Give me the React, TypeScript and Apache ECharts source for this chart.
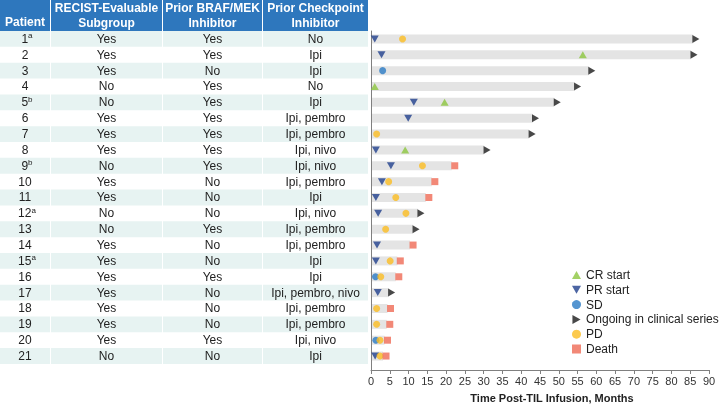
import React, { useEffect, useRef } from "react";
import * as echarts from "echarts";

// ---------- data ----------
const patients = ["1","2","3","4","5","6","7","8","9","10","11","12","13","14","15","16","17","18","19","20","21"];
const patientNotes = ["a","","","","b","","","","b","","","a","","","a","","","","","",""];
const recist = ["Yes","Yes","Yes","No","No","Yes","Yes","Yes","No","Yes","Yes","No","No","Yes","Yes","Yes","Yes","Yes","Yes","Yes","No"];
const priorBrafMek = ["Yes","Yes","No","Yes","Yes","Yes","Yes","Yes","Yes","No","No","No","Yes","No","No","Yes","No","No","No","Yes","No"];
const priorCheckpoint = ["No","Ipi","Ipi","No","Ipi","Ipi, pembro","Ipi, pembro","Ipi, nivo","Ipi, nivo","Ipi, pembro","Ipi","Ipi, nivo","Ipi, pembro","Ipi, pembro","Ipi","Ipi","Ipi, pembro, nivo","Ipi, pembro","Ipi, pembro","Ipi, nivo","Ipi"];
const tableHeaders = ["Patient", "RECIST-Evaluable\nSubgroup", "Prior BRAF/MEK\nInhibitor", "Prior Checkpoint\nInhibitor"];

// months post-TIL infusion at end of follow-up
const followUp = [86.5, 86, 58.8, 55, 49.6, 43.8, 42.9, 30.9, 22.3, 17, 15.4, 13.3, 12, 11.2, 7.8, 7.4, 5.5, 5.2, 5.0, 4.4, 4.0];
const outcome = ["ongoing","ongoing","ongoing","ongoing","ongoing","ongoing","ongoing","ongoing","death","death","death","ongoing","ongoing","death","death","death","ongoing","death","death","death","death"];

// [months, patient number]
const crStart = [[56.4, 2], [1.0, 4], [19.6, 5], [9.1, 8]];
const prStart = [[1.0, 1], [2.8, 2], [11.4, 5], [9.9, 6], [1.3, 8], [5.3, 9], [2.9, 10], [1.3, 11], [1.9, 12], [1.6, 14], [1.3, 15], [1.8, 17], [1.1, 21]];
const sd = [[3.1, 3], [1.2, 16], [1.3, 20]];
const pd = [[8.4, 1], [1.5, 7], [13.7, 9], [4.7, 10], [6.6, 11], [9.3, 12], [3.9, 13], [5.1, 15], [2.6, 16], [1.5, 18], [1.5, 19], [2.4, 20], [2.4, 21]];

const xTicksMax = 90;
const xTickStep = 5;
const xAxisTitle = "Time Post-TIL Infusion, Months";
const legendNames = ["CR start", "PR start", "SD", "Ongoing in clinical series", "PD", "Death"];

// ---------- layout ----------
const W = 720, H = 408;
const GRID_LEFT = 371, GRID_RIGHT = 11, GRID_TOP = 31, GRID_BOTTOM = 38;
const Y_MIN = 0.5, Y_MAX = 21.88;
const ROW_H = (H - GRID_TOP - GRID_BOTTOM) / (Y_MAX - Y_MIN);
const rowY = (i: number) => GRID_TOP + (i + 1 - Y_MIN) * ROW_H;
const FONT = "'Liberation Sans', Arial, Helvetica, sans-serif";
const HEADER_BLUE = "#2e77bd";
const BAND = "#e7f3f2";
const cols = [
  { x: 0, w: 50 },
  { x: 51, w: 111 },
  { x: 163, w: 99 },
  { x: 263, w: 105 },
];

const C = {
  cr: "#8cc63e",
  pr: "#1f3e8c",
  sd: "#2b7bc4",
  ongoing: "#1a1a1a",
  pd: "#fbbd22",
  death: "#ef6a55",
};

const TRI_UP = "path://M5,0 L10,9 L0,9 Z";
const TRI_DOWN = "path://M0,0 L10,0 L5,9 Z";
const TRI_RIGHT = "path://M0,0 L9,5 L0,10 Z";

function buildTable(): any[] {
  const els: any[] = [];
  // header
  cols.forEach((c, ci) => {
    els.push({ type: "rect", shape: { x: c.x, y: 0, width: c.w, height: GRID_TOP }, style: { fill: HEADER_BLUE }, silent: true });
    const twoLine = tableHeaders[ci].includes("\n");
    els.push({
      type: "text",
      x: c.x + c.w / 2,
      y: twoLine ? 15 : 22,
      style: {
        text: tableHeaders[ci],
        fill: "#ffffff",
        fontFamily: FONT,
        fontWeight: "bold",
        fontSize: 12,
        lineHeight: 15,
        align: "center",
        verticalAlign: "middle",
      },
      silent: true,
    });
  });
  // bands
  patients.forEach((_, i) => {
    if (i % 2 === 0) {
      cols.forEach((c) => {
        els.push({ type: "rect", shape: { x: c.x, y: rowY(i) - ROW_H / 2, width: c.w, height: ROW_H }, style: { fill: BAND }, silent: true });
      });
    }
  });
  // body text
  patients.forEach((p, i) => {
    const y = rowY(i);
    const vals = [p, recist[i], priorBrafMek[i], priorCheckpoint[i]];
    vals.forEach((v, ci) => {
      const c = cols[ci];
      const note = ci === 0 ? patientNotes[i] : "";
      els.push({
        type: "text",
        x: c.x + c.w / 2 + (ci === 0 && note ? 2 : 0),
        y,
        style: {
          text: note ? `${v}{sup|${note}}` : v,
          fill: "#222222",
          fontFamily: FONT,
          fontSize: 12,
          lineHeight: 14,
          align: "center",
          verticalAlign: "middle",
          rich: { sup: { fontSize: 8, fontFamily: FONT, fill: "#222222", verticalAlign: "top", lineHeight: 14 } },
        },
        silent: true,
      });
    });
  });
  return els;
}

export default function App() {
  const ref = useRef<HTMLDivElement>(null);
  useEffect(() => {
    if (!ref.current) return;
    const chart = echarts.init(ref.current, undefined, { renderer: "svg" });
    const scatterBase = { type: "scatter", z: 3, silent: true };
    chart.setOption({
      animation: false,
      textStyle: { fontFamily: FONT },
      grid: { left: GRID_LEFT, right: GRID_RIGHT, top: GRID_TOP, bottom: GRID_BOTTOM, containLabel: false },
      xAxis: {
        type: "value",
        min: 0,
        max: xTicksMax,
        interval: xTickStep,
        axisLine: { show: true, onZero: false, lineStyle: { color: "#808080", width: 1 } },
        axisTick: { show: true, length: 4, lineStyle: { color: "#808080" } },
        axisLabel: { fontSize: 11, color: "#333333", margin: 5, fontFamily: FONT },
        splitLine: { show: false },
        name: xAxisTitle,
        nameLocation: "middle",
        nameGap: 22,
        nameTextStyle: { fontWeight: "bold", fontSize: 11, color: "#222222", fontFamily: FONT, padding: [0, 0, 0, 24] },
      },
      yAxis: {
        type: "value",
        inverse: true,
        min: Y_MIN,
        max: Y_MAX,
        axisLine: { show: true, onZero: false, lineStyle: { color: "#808080", width: 1 } },
        axisTick: { show: false },
        axisLabel: { show: false },
        splitLine: { show: false },
      },
      legend: {
        data: legendNames,
        orient: "vertical",
        left: 567,
        top: 264,
        itemWidth: 9,
        itemHeight: 9,
        itemGap: 2.8,
        textStyle: { fontSize: 12, color: "#222222", fontFamily: FONT },
        selectedMode: false,
      },
      graphic: buildTable(),
      series: [
        {
          type: "custom",
          silent: true,
          z: 1,
          data: followUp.map((v, i) => [v, i + 1]),
          renderItem: (params: any, api: any) => {
            const s = api.coord([0, api.value(1)]);
            const e = api.coord([api.value(0), api.value(1)]);
            const h = 9;
            return {
              type: "rect",
              shape: { x: s[0] + 1, y: s[1] - h / 2, width: Math.max(0, e[0] - s[0] - 4), height: h },
              style: { fill: "#e4e4e4" },
            };
          },
        },
        { ...scatterBase, name: "CR start", data: crStart, symbol: TRI_UP, symbolSize: [8, 7], itemStyle: { color: C.cr } },
        { ...scatterBase, name: "PR start", data: prStart, symbol: TRI_DOWN, symbolSize: [8, 7], itemStyle: { color: C.pr } },
        { ...scatterBase, name: "SD", data: sd, symbol: "circle", symbolSize: 7, itemStyle: { color: C.sd } },
        { ...scatterBase, name: "PD", data: pd, symbol: "circle", symbolSize: 7, itemStyle: { color: C.pd } },
        {
          ...scatterBase,
          name: "Ongoing in clinical series",
          data: followUp.map((v, i) => (outcome[i] === "ongoing" ? [v, i + 1] : null)).filter(Boolean),
          symbol: TRI_RIGHT,
          symbolSize: [7, 8],
          itemStyle: { color: C.ongoing },
        },
        {
          ...scatterBase,
          name: "Death",
          data: followUp.map((v, i) => (outcome[i] === "death" ? [v, i + 1] : null)).filter(Boolean),
          symbol: "rect",
          symbolSize: 7,
          itemStyle: { color: C.death },
        },
      ],
    });
    return () => chart.dispose();
  }, []);
  return <div ref={ref} style={{ position: "fixed", left: 0, top: 0, width: W, height: H }} />;
}
